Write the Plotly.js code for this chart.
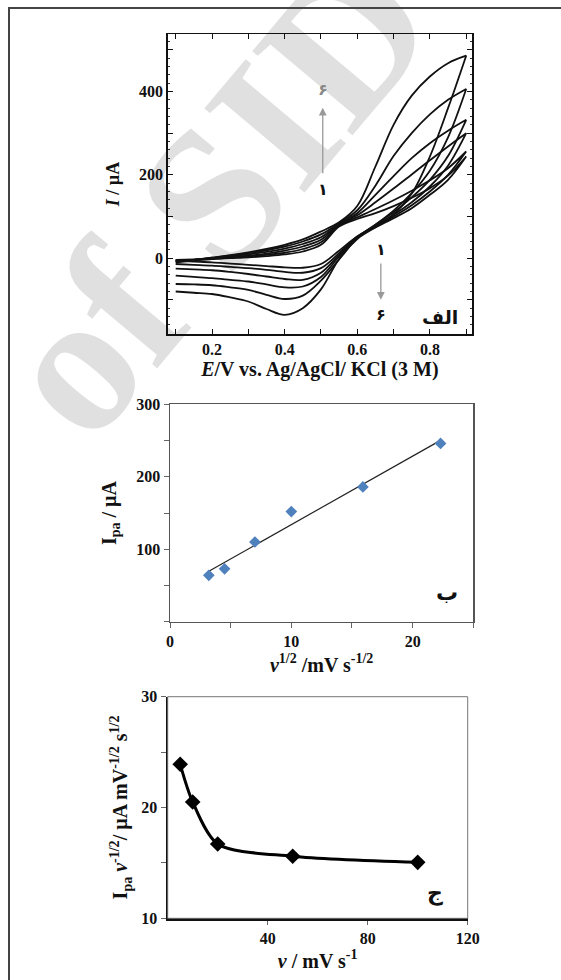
<!DOCTYPE html>
<html><head><meta charset="utf-8">
<script src="https://cdn.plot.ly/plotly-3.0.1.min.js"></script>
<style>
body{margin:0;background:#fff;}
#wrap{position:relative;width:561px;height:980px;overflow:hidden;background:#fff;}
#wm{position:absolute;left:215px;top:195px;transform:translate(-50%,-50%) rotate(-50deg);font-family:"Liberation Serif";font-weight:bold;font-size:200px;color:#e0e0e0;white-space:nowrap;line-height:1;}
#chart{position:absolute;left:0;top:0;width:561px;height:980px;}
</style>
</head><body>
<div id="wrap"><div id="wm">of SID</div><div id="chart"></div></div>
<script>
// ---- Panel A (الف): cyclic voltammograms, potential grid (V)
const E = [0.1,0.15,0.2,0.25,0.3,0.35,0.4,0.45,0.5,0.55,0.6,0.65,0.7,0.75,0.8,0.85,0.9];
// anodic (forward) branches, current in µA
const cv1_fwd = [-4,-3,-2,0,2,5,9,16,32,76,94,108,125,145,168,198,244];
const cv2_fwd = [-5,-4,-2,1,4,8,13,22,38,78,98,118,139,162,187,216,256];
const cv3_fwd = [-6,-4,-1,2,6,11,18,28,44,80,103,134,167,201,235,268,300];
const cv4_fwd = [-7,-4,0,4,9,15,23,34,50,82,108,152,197,240,276,306,332];
const cv5_fwd = [-8,-4,1,6,12,19,28,40,57,84,115,174,245,300,345,380,406];
const cv6_fwd = [-10,-5,1,7,14,22,32,45,64,86,125,220,320,390,436,468,486];
// cathodic (reverse) branches, same potential grid
const cv1_rev = [-6,-8,-10,-13,-16,-19,-22,-23,-14,18,52,74,96,120,152,188,244];
const cv2_rev = [-14,-16,-18,-21,-24,-28,-33,-35,-24,12,52,76,100,127,160,200,256];
const cv3_rev = [-25,-27,-29,-33,-38,-44,-50,-52,-35,8,50,78,104,134,172,222,300];
const cv4_rev = [-42,-45,-48,-52,-56,-63,-70,-68,-45,4,50,80,110,146,188,245,332];
const cv5_rev = [-62,-63,-65,-70,-76,-88,-98,-90,-54,-3,48,80,114,156,210,290,406];
const cv6_rev = [-80,-83,-86,-94,-104,-122,-136,-120,-75,-2,46,74,105,155,244,360,486];
const cvA_xticks = [0.2,0.4,0.6,0.8];
const cvA_xlabels = ['0.2','0.4','0.6','0.8'];
const cvA_xminor = [0.1,0.3,0.5,0.7,0.9];
const cvA_yticks = [0,200,400];
const cvA_ylabels = ['0','200','400'];
const cvA_ymid = [-100,100,300,500];

// ---- Panel B (ب): Ipa vs sqrt(v)
const sqrtV = [3.2,4.5,7.0,10.0,15.9,22.3];
const Ipa = [64,73,110,152,186,246];
const b_xticks = [0,10,20];
const b_xlabels = ['0','10','20'];
const b_xminor = [5,15,25];
const b_yticks = [100,200,300];
const b_ylabels = ['100','200','300'];
const b_yminor = [0,50,150,250];

// ---- Panel C (ج): Ipa v^-1/2 vs v
const scanRate = [5,10,20,50,100];
const normIpa = [23.9,20.5,16.7,15.6,15.05];
const c_xticks = [40,80,120];
const c_xlabels = ['40','80','120'];
const c_yticks = [10,20,30];
const c_ylabels = ['10','20','30'];
const c_yminor = [15,25];

const fwdList = [cv1_fwd,cv2_fwd,cv3_fwd,cv4_fwd,cv5_fwd,cv6_fwd];
const revList = [cv1_rev,cv2_rev,cv3_rev,cv4_rev,cv5_rev,cv6_rev];
const traces = [];
fwdList.forEach((f,i)=>{
  const r = revList[i];
  traces.push({
    x: E.concat(E.slice().reverse()),
    y: f.concat(r.slice().reverse()),
    xaxis:'x', yaxis:'y', mode:'lines', type:'scatter',
    line:{color:'#111', width:1.8, shape:'spline', smoothing:1},
    showlegend:false, hoverinfo:'skip'
  });
});
// invisible trace to activate the tick overlay axis of panel A
traces.push({x:[0.5], y:[0], xaxis:'x', yaxis:'y4', mode:'markers', marker:{opacity:0}, showlegend:false, hoverinfo:'skip'});

// least squares fit for panel B
const n = sqrtV.length;
const mx = sqrtV.reduce((a,b)=>a+b,0)/n, my = Ipa.reduce((a,b)=>a+b,0)/n;
let sxy=0,sxx=0; for(let i=0;i<n;i++){sxy+=(sqrtV[i]-mx)*(Ipa[i]-my);sxx+=(sqrtV[i]-mx)**2;}
const slope = sxy/sxx, icpt = my-slope*mx;
const fx = [Math.min(...sqrtV), Math.max(...sqrtV)];
traces.push({x:fx, y:fx.map(v=>icpt+slope*v), xaxis:'x2', yaxis:'y2', mode:'lines',
  line:{color:'#222', width:1.2}, showlegend:false, hoverinfo:'skip'});
traces.push({x:sqrtV, y:Ipa, xaxis:'x2', yaxis:'y2', mode:'markers',
  marker:{symbol:'diamond', size:9, color:'#4F81BD'}, showlegend:false});

traces.push({x:scanRate, y:normIpa, xaxis:'x3', yaxis:'y3', mode:'lines+markers',
  line:{color:'#000', width:3, shape:'spline', smoothing:0.8},
  marker:{symbol:'diamond', size:12, color:'#000'}, showlegend:false});

const serif = 'Liberation Serif, Times New Roman, serif';
const tickFont = (s)=>({family:serif, size:s, color:'#111', weight:'bold'});
const W=561,H=980;
const px=(v)=>v/W, py=(v)=>1-v/H;

const layout = {
  width:W, height:H, margin:{l:0,r:0,t:0,b:0},
  paper_bgcolor:'rgba(0,0,0,0)', plot_bgcolor:'rgba(0,0,0,0)',
  showlegend:false,
  xaxis:{domain:[px(167.7),px(472)], range:[0.078,0.916], anchor:'y',
    tickmode:'array', tickvals:cvA_xticks, ticktext:cvA_xlabels,
    minor:{tickmode:'array', tickvals:cvA_xminor, ticks:'inside', ticklen:5, tickcolor:'#111', showgrid:false},
    ticks:'inside', ticklen:5, tickcolor:'#111', showline:true, mirror:'ticks',
    linecolor:'#111', linewidth:1.5, showgrid:false, zeroline:false, tickfont:tickFont(16),
    title:{text:'<i>E</i>/V vs. Ag/AgCl/ KCl (3 M)', font:{family:serif,size:20,color:'#111',weight:'bold'}, standoff:5}},
  yaxis:{domain:[py(334),py(34)], range:[-182,538], anchor:'x',
    tickmode:'array', tickvals:cvA_yticks, ticktext:cvA_ylabels,
    ticks:'inside', ticklen:5, tickcolor:'#111', showline:true, mirror:'ticks',
    linecolor:'#111', linewidth:1.5, showgrid:false, zeroline:false, tickfont:tickFont(16),
    minor:{dtick:20, tick0:0, ticks:'inside', ticklen:2, tickcolor:'#333', showgrid:false},
    title:{text:'<i>I</i> / µA', font:{family:serif,size:18,color:'#111',weight:'bold'}, standoff:14}},
  yaxis4:{domain:[py(334),py(34)], range:[-182,538], anchor:'x', overlaying:'y', side:'left',
    tickmode:'array', tickvals:cvA_ymid, showticklabels:false,
    ticks:'inside', ticklen:5, tickcolor:'#111', showline:false, mirror:'ticks',
    showgrid:false, zeroline:false},
  xaxis2:{domain:[px(170),px(473.3)], range:[0,25], anchor:'y2',
    tickmode:'array', tickvals:b_xticks, ticktext:b_xlabels,
    minor:{tickmode:'array', tickvals:b_xminor, ticks:'outside', ticklen:5, tickcolor:'#666', showgrid:false},
    ticks:'outside', ticklen:5, tickcolor:'#666', showline:true, mirror:true,
    linecolor:'#555', linewidth:1.5, showgrid:false, zeroline:false, tickfont:tickFont(16),
    title:{text:'<i>v</i><sup>1/2</sup> /mV s<sup>-1/2</sup>', font:{family:serif,size:20,color:'#111',weight:'bold'}, standoff:8}},
  yaxis2:{domain:[py(621.7),py(404.3)], range:[0,300], anchor:'x2',
    tickmode:'array', tickvals:b_yticks, ticktext:b_ylabels,
    minor:{tickmode:'array', tickvals:b_yminor, ticks:'outside', ticklen:5, tickcolor:'#666', showgrid:false},
    ticks:'outside', ticklen:5, tickcolor:'#666', showline:true, mirror:true,
    linecolor:'#555', linewidth:1.5, showgrid:false, zeroline:false, tickfont:tickFont(16),
    title:{text:'I<sub>pa</sub> / µA', font:{family:serif,size:20,color:'#111',weight:'bold'}, standoff:14}},
  xaxis3:{domain:[px(167.7),px(467.7)], range:[0,120], anchor:'y3',
    tickmode:'array', tickvals:c_xticks, ticktext:c_xlabels,
    ticks:'outside', ticklen:4, tickcolor:'#666', showline:true, mirror:false,
    linecolor:'#111', linewidth:2.2, showgrid:false, zeroline:false, tickfont:tickFont(16),
    title:{text:'<i>v</i> / mV s<sup>-1</sup>', font:{family:serif,size:20,color:'#111',weight:'bold'}, standoff:8}},
  yaxis3:{domain:[py(918.3),py(696.7)], range:[10,30], anchor:'x3',
    tickmode:'array', tickvals:c_yticks, ticktext:c_ylabels,
    minor:{tickmode:'array', tickvals:c_yminor, ticks:'outside', ticklen:5, tickcolor:'#666', showgrid:false},
    ticks:'outside', ticklen:5, tickcolor:'#666', showline:true, mirror:false,
    linecolor:'#111', linewidth:2.2, showgrid:false, zeroline:false, tickfont:tickFont(16),
    title:{text:'I<sub>pa</sub> <i>v</i><sup>-1/2</sup>/ µA mV<sup>-1/2</sup> s<sup>1/2</sup>', font:{family:serif,size:20,color:'#111',weight:'bold'}, standoff:8}},
  shapes:[
    {type:'rect', xref:'paper', yref:'paper', x0:px(9), x1:1.02, y0:-0.02, y1:py(8), line:{color:'#444', width:2}},
    {type:'rect', xref:'x3 domain', yref:'y3 domain', x0:0, x1:1, y0:0, y1:1, line:{color:'#777', width:1}}
  ],
  annotations:[
    {xref:'x', yref:'y', x:0.505, y:404, text:'۶', showarrow:false, font:{family:'DejaVu Sans', size:16, color:'#888', weight:'bold'}},
    {xref:'x', yref:'y', x:0.505, y:361, ax:0.505, ay:200, axref:'x', ayref:'y', text:'', showarrow:true, arrowhead:2, arrowsize:1.2, arrowwidth:1.3, arrowcolor:'#999'},
    {xref:'x', yref:'y', x:0.505, y:164, text:'۱', showarrow:false, font:{family:'DejaVu Sans', size:16, color:'#111', weight:'bold'}},
    {xref:'x', yref:'y', x:0.665, y:20, text:'۱', showarrow:false, font:{family:'DejaVu Sans', size:16, color:'#111', weight:'bold'}},
    {xref:'x', yref:'y', x:0.665, y:-100, ax:0.665, ay:-9, axref:'x', ayref:'y', text:'', showarrow:true, arrowhead:2, arrowsize:1.2, arrowwidth:1.3, arrowcolor:'#999'},
    {xref:'x', yref:'y', x:0.665, y:-136, text:'۶', showarrow:false, font:{family:'DejaVu Sans', size:16, color:'#111', weight:'bold'}},
    {xref:'x', yref:'y', x:0.827, y:-140, text:'الف', showarrow:false, font:{family:'DejaVu Sans', size:19, color:'#111', weight:'bold'}},
    {xref:'x2', yref:'y2', x:22.8, y:40, text:'ب', showarrow:false, font:{family:'DejaVu Sans', size:22, color:'#111', weight:'bold'}},
    {xref:'x3', yref:'y3', x:107, y:12.3, text:'ج', showarrow:false, font:{family:'DejaVu Sans', size:22, color:'#111', weight:'bold'}}
  ]
};
Plotly.newPlot('chart', traces, layout, {displayModeBar:false, staticPlot:true});
</script>
</body></html>
